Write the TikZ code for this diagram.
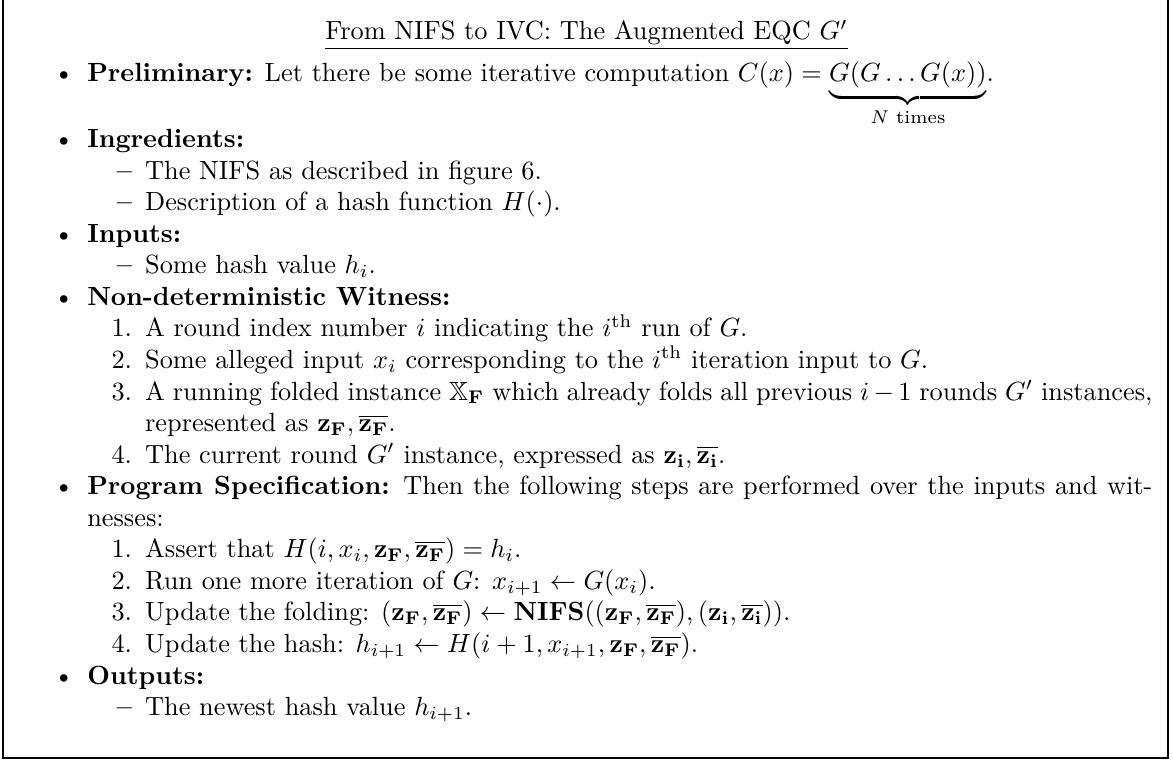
\documentclass[tikz,border=0pt]{standalone}
\usepackage{amsmath,amssymb}
\usepackage{enumitem}
\setlist{nosep}
\begin{document}
\begin{tikzpicture}[x=1pt,y=1pt]
\useasboundingbox (0,0) rectangle (446,289.35);
\tikzset{frameline/.style={line width=0.5pt}}
\coordinate (tl) at (1.2,300);
\coordinate (bl) at (1.2,1.2);
\coordinate (br) at (444.1,1.2);
\coordinate (tr) at (444.1,300);
\draw[frameline] (tl) -- (bl) -- (br) -- (tr);
\node[anchor=base, inner sep=0] (title) at (223,274.2) {\underline{From NIFS to IVC: The Augmented EQC $G'$}};
\node[anchor=north west, inner sep=0, text width=430pt, align=justify] (body) at (8,270.6) {%
\begin{itemize}
\item \textbf{Preliminary:} Let there be some iterative computation $C(x) = \underbrace{G(G\dots G(x))}_{N\text{ times}}$.
\item \textbf{Ingredients:}
  \begin{itemize}
  \item The NIFS as described in figure 6.
  \item Description of a hash function $H(\cdot)$.
  \end{itemize}
\item \textbf{Inputs:}
  \begin{itemize}
  \item Some hash value $h_i$.
  \end{itemize}
\item \textbf{Non-deterministic Witness:}
  \begin{enumerate}
  \item A round index number $i$ indicating the $i^{\text{th}}$ run of $G$.
  \item Some alleged input $x_i$ corresponding to the $i^{\text{th}}$ iteration input to $G$.
  \item A running folded instance $\mathbb{X}_{\mathbf{F}}$ which already folds all previous $i-1$ rounds $G'$ instances, represented as $\mathbf{z_F}, \overline{\mathbf{z_F}}$.
  \item The current round $G'$ instance, expressed as $\mathbf{z_i}, \overline{\mathbf{z_i}}$.
  \end{enumerate}
\item \textbf{Program Specification:} Then the following steps are performed over the inputs and witnesses:
  \begin{enumerate}
  \item Assert that $H(i, x_i, \mathbf{z_F}, \overline{\mathbf{z_F}}) = h_i$.
  \item Run one more iteration of $G$: $x_{i+1} \leftarrow G(x_i)$.
  \item Update the folding: $(\mathbf{z_F}, \overline{\mathbf{z_F}}) \leftarrow \mathbf{NIFS}((\mathbf{z_F}, \overline{\mathbf{z_F}}), (\mathbf{z_i}, \overline{\mathbf{z_i}}))$.
  \item Update the hash: $h_{i+1} \leftarrow H(i+1, x_{i+1}, \mathbf{z_F}, \overline{\mathbf{z_F}})$.
  \end{enumerate}
\item \textbf{Outputs:}
  \begin{itemize}
  \item The newest hash value $h_{i+1}$.
  \end{itemize}
\end{itemize}};
\end{tikzpicture}
\end{document}
